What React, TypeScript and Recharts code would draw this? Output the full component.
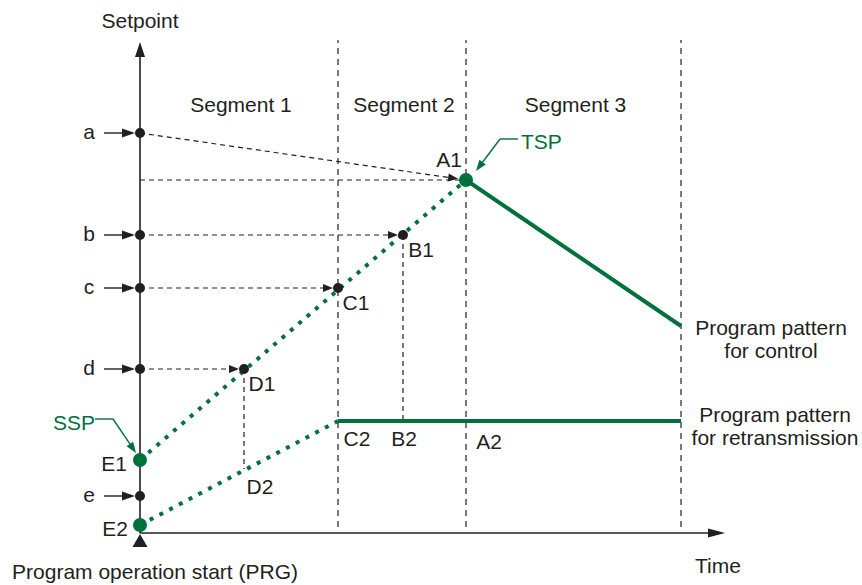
import { ComposedChart, Line, Scatter, XAxis, YAxis, ReferenceLine, ReferenceDot } from "recharts"

const INK = "#231f20"
const GREEN = "#00703c"
const FONT = "'Liberation Sans', Arial, sans-serif"

// time (t) and setpoint (s) in the same unit, origin = program operation start
const inputNames = ["a", "b", "c", "d", "e"]
const inputLevels = [400, 298, 245, 164, 37]

const segmentNames = ["Segment 1", "Segment 2", "Segment 3"]
const segmentEnds = [198, 326, 541]

const sspLevel = 73
const tspTime = 326
const tspLevel = 353
const retransStart = 8

const controlRamp = [{ t: 0, s: 73 }, { t: 326, s: 353 }]
const controlNext = [{ t: 326, s: 353 }, { t: 541, s: 207 }]
const retransRamp = [{ t: 0, s: 8 }, { t: 198, s: 112 }]
const retransHold = [{ t: 198, s: 112 }, { t: 541, s: 112 }]
const greenPoints = [{ t: 0, s: 73 }, { t: 0, s: 8 }, { t: 326, s: 353 }]

// where b, c, d reach the control ramp, and the matching retransmission points
const crossNames = ["B1", "C1", "D1"]
const crossTimes = [263, 198, 104]
const crossLevels = [298, 245, 164]
const dropNames = ["B2", "C2", "D2"]
const dropLevels = [112, 112, 64]

type ArrowOpts = { head?: number; half?: number; gap?: number; dash?: string; color?: string; width?: number }

const arrowShape = ({ head = 0, half = 4, gap = 0, dash, color = INK, width = 1.2 }: ArrowOpts) => (p: any) => {
  const { x1, y1, x2, y2 } = p
  const len = Math.hypot(x2 - x1, y2 - y1) || 1
  const ux = (x2 - x1) / len
  const uy = (y2 - y1) / len
  const tx = x2 - ux * gap
  const ty = y2 - uy * gap
  const bx = tx - ux * head
  const by = ty - uy * head
  return (
    <g>
      <line x1={x1} y1={y1} x2={head ? bx + ux : tx} y2={head ? by + uy : ty} stroke={color} strokeWidth={width} strokeDasharray={dash} />
      {head > 0 && (
        <polygon points={`${tx},${ty} ${bx - uy * half},${by + ux * half} ${bx + uy * half},${by - ux * half}`} fill={color} />
      )}
    </g>
  )
}

type TextOpts = { dx?: number; dy?: number; anchor?: "start" | "middle" | "end"; color?: string; size?: number }

const textShape = (lines: string[], { dx = 0, dy = 0, anchor = "middle", color = INK, size = 21 }: TextOpts = {}) => (p: any) => (
  <text x={p.cx + dx} y={p.cy + dy} textAnchor={anchor} fill={color} fontSize={size} fontFamily={FONT} dominantBaseline="central">
    {lines.map((l, i) => (
      <tspan key={i} x={p.cx + dx} dy={i === 0 ? 0 : 23}>{l}</tspan>
    ))}
  </text>
)

const dotShape = (r: number, color: string) => (p: any) => <circle cx={p.cx} cy={p.cy} r={r} fill={color} stroke="none" />

const DASH = "5 4"

export default function App() {
  const prevEnds = [0, ...segmentEnds]
  return (
    <div style={{ position: "absolute", left: 0, top: 0, background: "#fff" }}>
      <ComposedChart width={862} height={585} margin={{ top: 0, right: 0, bottom: 0, left: 0 }}>
        <XAxis type="number" dataKey="t" domain={[-140, 722]} allowDataOverflow hide />
        <YAxis type="number" dataKey="s" domain={[-52, 533]} allowDataOverflow hide />

        {/* segment boundaries */}
        {segmentEnds.map((t) => (
          <ReferenceLine key={"seg" + t} segment={[{ x: t, y: 6 }, { x: t, y: 493 }]} shape={arrowShape({ dash: "6 5", color: "#333", width: 1.3 })} />
        ))}
        {segmentNames.map((n, i) => (
          <ReferenceDot key={n} x={(prevEnds[i] + segmentEnds[i]) / 2 + 2} y={429} r={0} shape={textShape([n])} />
        ))}

        {/* axes */}
        <ReferenceLine segment={[{ x: 0, y: 0 }, { x: 0, y: 491 }]} shape={arrowShape({ head: 15, half: 5, width: 1.6 })} />
        <ReferenceLine segment={[{ x: 0, y: 0 }, { x: 585, y: 0 }]} shape={arrowShape({ head: 17, half: 4.5, width: 1.6 })} />
        <ReferenceDot x={0} y={0} r={0} shape={(p: any) => <polygon points={`${p.cx},${p.cy + 1} ${p.cx - 7.5},${p.cy + 14} ${p.cx + 7.5},${p.cy + 14}`} fill={INK} />} />

        {/* dashed projections */}
        <ReferenceLine segment={[{ x: 0, y: inputLevels[0] }, { x: tspTime, y: tspLevel }]} shape={arrowShape({ head: 10, half: 4, gap: 8, dash: DASH })} />
        <ReferenceLine segment={[{ x: 0, y: tspLevel }, { x: tspTime, y: tspLevel }]} shape={arrowShape({ dash: DASH })} />
        {crossTimes.map((t, i) => (
          <ReferenceLine key={"h" + i} segment={[{ x: 0, y: crossLevels[i] }, { x: t, y: crossLevels[i] }]} shape={arrowShape({ head: 10, half: 4, gap: 5, dash: DASH })} />
        ))}
        {crossTimes.map((t, i) =>
          segmentEnds.includes(t) ? null : (
            <ReferenceLine key={"v" + i} segment={[{ x: t, y: crossLevels[i] }, { x: t, y: dropLevels[i] }]} shape={arrowShape({ dash: DASH })} />
          )
        )}

        {/* program patterns */}
        <Line data={controlRamp} dataKey="s" stroke={GREEN} strokeWidth={4} strokeDasharray="4 7" dot={false} activeDot={false} isAnimationActive={false} />
        <Line data={controlNext} dataKey="s" stroke={GREEN} strokeWidth={4} dot={false} activeDot={false} isAnimationActive={false} />
        <Line data={retransRamp} dataKey="s" stroke={GREEN} strokeWidth={4} strokeDasharray="4 7" dot={false} activeDot={false} isAnimationActive={false} />
        <Line data={retransHold} dataKey="s" stroke={GREEN} strokeWidth={4} dot={false} activeDot={false} isAnimationActive={false} />
        <Scatter data={greenPoints} dataKey="s" fill={GREEN} shape={dotShape(7, GREEN)} isAnimationActive={false} />

        {/* inputs a..e */}
        {inputNames.map((n, i) => (
          <ReferenceLine key={"in" + n} segment={[{ x: -36, y: inputLevels[i] }, { x: 0, y: inputLevels[i] }]} shape={arrowShape({ head: 13, half: 4.5, gap: 5, width: 1.4 })} />
        ))}
        {inputNames.map((n, i) => (
          <ReferenceDot key={"d" + n} x={0} y={inputLevels[i]} r={5} shape={dotShape(5, INK)} />
        ))}
        {inputNames.map((n, i) => (
          <ReferenceDot key={"t" + n} x={0} y={inputLevels[i]} r={0} shape={textShape([n], { dx: -51, dy: -2 })} />
        ))}

        {crossTimes.map((t, i) => (
          <ReferenceDot key={"c" + i} x={t} y={crossLevels[i]} r={5} shape={dotShape(5, INK)} />
        ))}
        {crossNames.map((n, i) => (
          <ReferenceDot key={n} x={crossTimes[i]} y={crossLevels[i]} r={0} shape={textShape([n], { dx: 18, dy: 14 })} />
        ))}
        {dropNames.map((n, i) => (
          <ReferenceDot key={n} x={crossTimes[i]} y={dropLevels[i]} r={0} shape={textShape([n], { dx: i === 0 ? 1 : i === 2 ? 16 : 19, dy: 17 })} />
        ))}
        <ReferenceDot x={tspTime} y={retransHold[0].s} r={0} shape={textShape(["A2"], { dx: 23, dy: 20 })} />
        <ReferenceDot x={tspTime} y={tspLevel} r={0} shape={textShape(["A1"], { dx: -17, dy: -21 })} />

        {/* SSP / TSP */}
        <ReferenceDot x={0} y={sspLevel} r={0} shape={textShape(["E1"], { dx: -13, dy: 3, anchor: "end" })} />
        <ReferenceDot x={0} y={retransStart} r={0} shape={textShape(["E2"], { dx: -12, dy: 3, anchor: "end" })} />

        <ReferenceLine segment={[{ x: 378, y: 394 }, { x: 360, y: 394 }]} shape={arrowShape({ color: GREEN, width: 1.4 })} />
        <ReferenceLine segment={[{ x: 360, y: 394 }, { x: 336, y: 362 }]} shape={arrowShape({ head: 11, half: 4, color: GREEN, width: 1.4 })} />
        <ReferenceDot x={381} y={392} r={0} shape={textShape(["TSP"], { anchor: "start", color: GREEN })} />

        <ReferenceLine segment={[{ x: -45, y: 114 }, { x: -27, y: 114 }]} shape={arrowShape({ color: GREEN, width: 1.4 })} />
        <ReferenceLine segment={[{ x: -27, y: 114 }, { x: -4, y: 80 }]} shape={arrowShape({ head: 11, half: 4, color: GREEN, width: 1.4 })} />
        <ReferenceDot x={-45} y={111} r={0} shape={textShape(["SSP"], { anchor: "end", color: GREEN })} />

        {/* captions */}
        <ReferenceDot x={0} y={513} r={0} shape={textShape(["Setpoint"])} />
        <ReferenceDot x={631} y={206} r={0} shape={textShape(["Program pattern", "for control"])} />
        <ReferenceDot x={635} y={119} r={0} shape={textShape(["Program pattern", "for retransmission"])} />
        <ReferenceDot x={578} y={-32} r={0} shape={textShape(["Time"])} />
        <ReferenceDot x={15} y={-38} r={0} shape={textShape(["Program operation start (PRG)"])} />
      </ComposedChart>
    </div>
  )
}
